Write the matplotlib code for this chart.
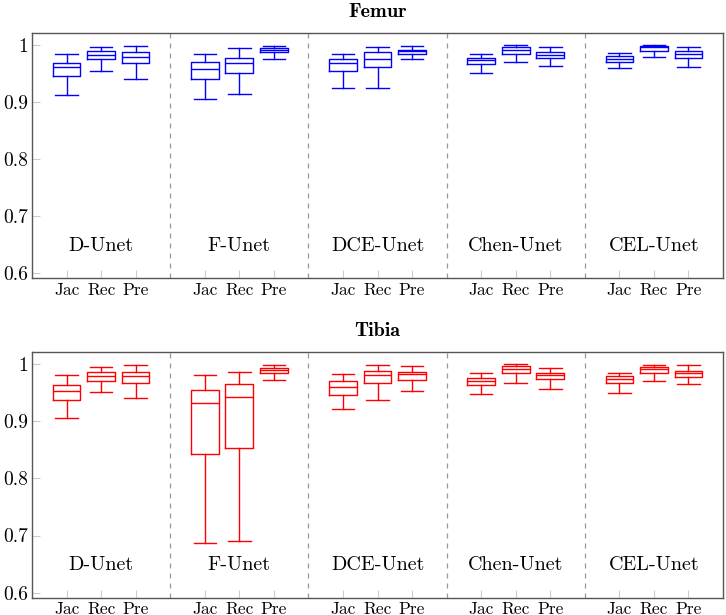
import matplotlib
matplotlib.use("Agg")
import matplotlib.pyplot as plt

plt.rcParams['font.family'] = ['cmr10', 'DejaVu Serif']
plt.rcParams['axes.formatter.use_mathtext'] = True

MODELS = ['D-Unet', 'F-Unet', 'DCE-Unet', 'Chen-Unet', 'CEL-Unet']
METRICS = ['Jac', 'Rec', 'Pre']

# five-number summaries, ordered model by model: Jac, Rec, Pre
femur_lo = [0.912, 0.954, 0.941, 0.905, 0.914, 0.976, 0.924, 0.924, 0.975,
            0.951, 0.971, 0.964, 0.959, 0.979, 0.962]
femur_q1 = [0.945, 0.975, 0.968, 0.941, 0.951, 0.988, 0.954, 0.962, 0.985,
            0.966, 0.985, 0.977, 0.971, 0.989, 0.978]
femur_med = [0.961, 0.982, 0.979, 0.958, 0.968, 0.992, 0.968, 0.976, 0.989,
             0.974, 0.992, 0.982, 0.976, 0.996, 0.984]
femur_q3 = [0.969, 0.989, 0.987, 0.970, 0.978, 0.995, 0.975, 0.987, 0.992,
            0.978, 0.996, 0.988, 0.981, 0.998, 0.989]
femur_hi = [0.985, 0.997, 0.999, 0.984, 0.994, 0.999, 0.985, 0.996, 0.998,
            0.984, 1.000, 0.997, 0.986, 1.000, 0.997]

tibia_lo = [0.905, 0.951, 0.941, 0.687, 0.690, 0.972, 0.921, 0.937, 0.953,
            0.948, 0.968, 0.956, 0.950, 0.971, 0.965]
tibia_q1 = [0.938, 0.971, 0.968, 0.843, 0.853, 0.985, 0.947, 0.967, 0.972,
            0.964, 0.984, 0.974, 0.967, 0.985, 0.978]
tibia_med = [0.953, 0.979, 0.979, 0.933, 0.942, 0.990, 0.960, 0.981, 0.983,
             0.971, 0.992, 0.981, 0.974, 0.991, 0.984]
tibia_q3 = [0.963, 0.986, 0.986, 0.955, 0.965, 0.994, 0.970, 0.988, 0.987,
            0.976, 0.997, 0.985, 0.980, 0.995, 0.988]
tibia_hi = [0.981, 0.995, 0.998, 0.981, 0.987, 0.999, 0.983, 0.998, 0.997,
            0.985, 1.000, 0.994, 0.985, 0.999, 0.999]


def draw_panel(ax, title, color, lo, q1, med, q3, hi):
    stats = []
    positions = []
    for i in range(len(MODELS) * len(METRICS)):
        stats.append({'whislo': lo[i], 'q1': q1[i], 'med': med[i],
                      'q3': q3[i], 'whishi': hi[i]})
        positions.append(4 * (i // 3) + i % 3 + 1)
    line = {'color': color, 'linewidth': 1.0}
    ax.bxp(stats, positions=positions, widths=0.8, capwidths=0.65,
           showfliers=False, boxprops=line, medianprops=line,
           whiskerprops=line, capprops=line)
    for k in range(1, len(MODELS)):
        ax.axvline(4 * k, color='#999999', linestyle=(0, (4, 4)), linewidth=0.9)
    for k, name in enumerate(MODELS):
        ax.text(4 * k + 2, 0.648, name, ha='center', va='center', fontsize=14.5)
    ax.set_xlim(0, 20)
    ax.set_ylim(0.591, 1.021)
    ax.set_xticks(positions)
    ax.set_xticklabels(METRICS * len(MODELS), fontsize=12.5)
    ax.set_yticks([0.6, 0.7, 0.8, 0.9, 1.0])
    ax.set_yticklabels(['0.6', '0.7', '0.8', '0.9', '1'], fontsize=14)
    ax.tick_params(direction='in', length=5.5, color='#cccccc')
    ax.tick_params(axis='x', pad=3)
    ax.tick_params(axis='y', pad=3)
    for sp in ax.spines.values():
        sp.set_color('#555555')
        sp.set_linewidth(1.0)
    ax.set_title(title, fontsize=14.5, fontfamily=['cmb10', 'DejaVu Serif'],
                 fontweight='bold', pad=11.5)


fig = plt.figure(figsize=(7.26, 6.15), dpi=100)
ax1 = fig.add_axes([0.0441, 0.5475, 0.9518, 0.3988])
ax2 = fig.add_axes([0.0441, 0.0281, 0.9518, 0.3991])
draw_panel(ax1, 'Femur', '#0000ff', femur_lo, femur_q1, femur_med, femur_q3, femur_hi)
draw_panel(ax2, 'Tibia', '#ff0000', tibia_lo, tibia_q1, tibia_med, tibia_q3, tibia_hi)

fig.savefig('out.png', dpi=100)
